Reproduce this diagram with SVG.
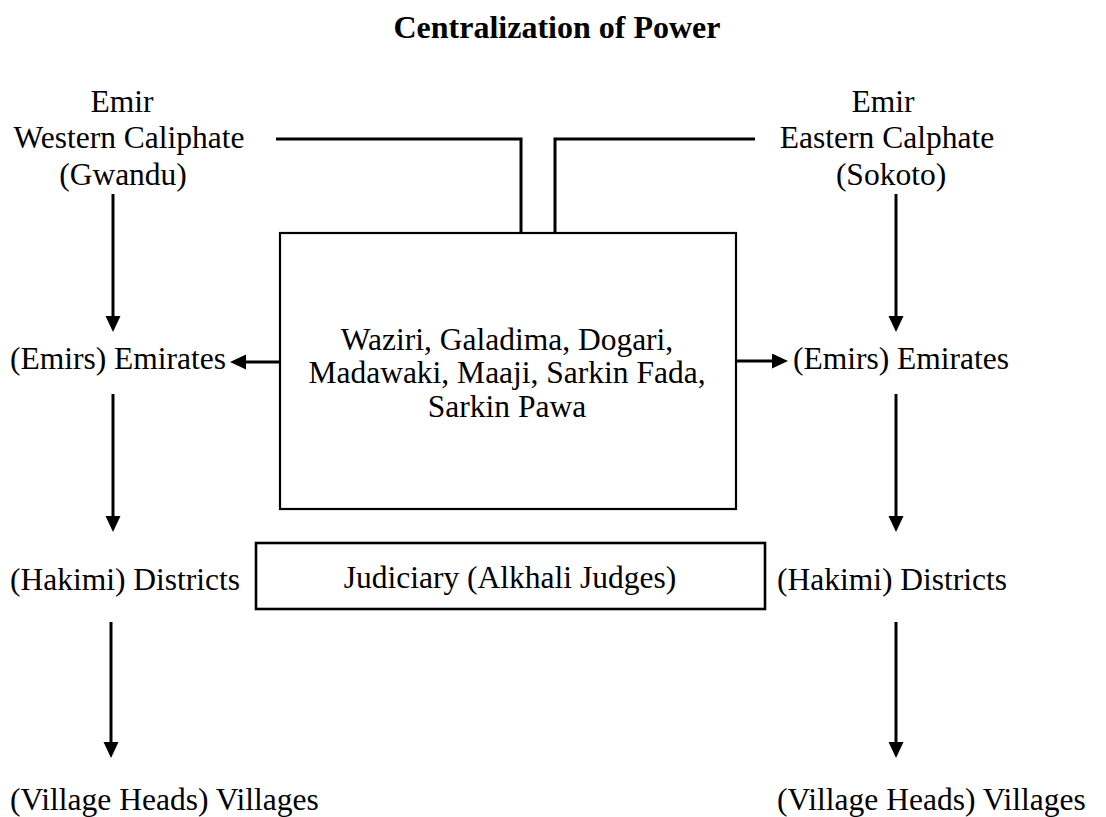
<svg xmlns="http://www.w3.org/2000/svg" width="1106" height="817" viewBox="0 0 1106 817">
<style>
text{font-family:"Liberation Serif","Times New Roman",serif;font-size:31.5px;fill:#000}
.title{font-weight:bold;font-size:32px}
.mid{text-anchor:middle}
.box{fill:#fff;stroke:#000;stroke-width:2.2}
.ln{fill:none;stroke:#000;stroke-width:3}
.arr{fill:none;stroke:#000;stroke-width:3;marker-end:url(#ah)}
</style>
<defs>
<marker id="ah" markerUnits="userSpaceOnUse" markerWidth="16" markerHeight="16" refX="6" refY="7.5" orient="auto">
<path d="M0,0 L16,7.5 L0,15 Z" fill="#000"/>
</marker>
</defs>
<rect width="1106" height="817" fill="#fff"/>
<text class="title mid" x="557" y="38">Centralization of Power</text>

<g id="connectors">
<polyline class="ln" points="276,139 521,139 521,233"/>
<polyline class="ln" points="755,139 555,139 555,233"/>
<line class="arr" x1="113" y1="194" x2="113" y2="322"/>
<line class="arr" x1="896" y1="194" x2="896" y2="322"/>
<line class="arr" x1="280" y1="362" x2="240" y2="362"/>
<line class="arr" x1="736" y1="361" x2="778" y2="361"/>
<line class="arr" x1="113" y1="394" x2="113" y2="522"/>
<line class="arr" x1="896" y1="394" x2="896" y2="522"/>
<line class="arr" x1="111" y1="622" x2="111" y2="748"/>
<line class="arr" x1="896" y1="622" x2="896" y2="748"/>
</g>

<g id="western-emir">
<text class="mid" x="122" y="112">Emir</text>
<text class="mid" x="129" y="148">Western Caliphate</text>
<text class="mid" x="123" y="185">(Gwandu)</text>
</g>
<g id="eastern-emir">
<text class="mid" x="883" y="112">Emir</text>
<text class="mid" x="887" y="148">Eastern Calphate</text>
<text class="mid" x="891" y="185">(Sokoto)</text>
</g>
<g id="council">
<rect class="box" x="280" y="233" width="456" height="276"/>
<text class="mid" x="507" y="350">Waziri, Galadima, Dogari,</text>
<text class="mid" x="507" y="383">Madawaki, Maaji, Sarkin Fada,</text>
<text class="mid" x="507" y="417">Sarkin Pawa</text>
</g>
<g id="emirates-left"><text x="10" y="369">(Emirs) Emirates</text></g>
<g id="emirates-right"><text x="793" y="369">(Emirs) Emirates</text></g>
<g id="districts-left"><text x="10" y="590">(Hakimi) Districts</text></g>
<g id="districts-right"><text x="777" y="590">(Hakimi) Districts</text></g>
<g id="judiciary">
<rect class="box" x="256" y="543" width="509" height="66" style="stroke-width:2.6"/>
<text class="mid" x="510" y="588">Judiciary (Alkhali Judges)</text>
</g>
<g id="villages-left"><text x="10" y="810">(Village Heads) Villages</text></g>
<g id="villages-right"><text x="777" y="810">(Village Heads) Villages</text></g>
</svg>
